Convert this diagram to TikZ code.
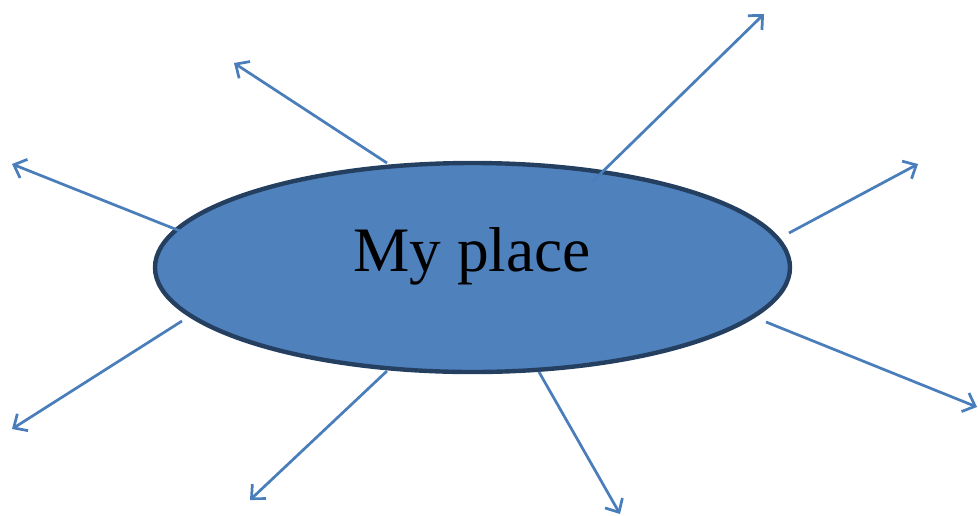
\documentclass[tikz,border=0pt]{standalone}
\usepackage{fontspec}
\setmainfont{Liberation Serif}
\usetikzlibrary{arrows.meta,shapes.geometric}
\definecolor{fillblue}{HTML}{4F81BD}
\definecolor{edgeblue}{HTML}{243F60}
\definecolor{arrowblue}{HTML}{4A7EBB}
\tikzset{
  ray/.style={draw=arrowblue, line width=2.05pt, -{Straight Barb[length=8pt,width=15pt,line width=2.05pt]}},
}
\begin{document}
\begin{tikzpicture}[x=0.75pt,y=-0.75pt]
\useasboundingbox (0,0) rectangle (978,515);
\node[ellipse, draw=edgeblue, fill=fillblue, line width=3.3pt, minimum width=635pt*0.75, minimum height=209pt*0.75, inner sep=0pt] (place) at (472.5,267.5) {};
\node[font=\fontsize{47.5pt}{50pt}\selectfont, inner sep=0pt] (label) at (472,256) {My place};
\coordinate (s1) at (387,163); \coordinate (e1) at (234,63);
\coordinate (s2) at (180,231); \coordinate (e2) at (12,164);
\coordinate (s3) at (182,321); \coordinate (e3) at (12,429);
\coordinate (s4) at (387,371); \coordinate (e4) at (250,500);
\coordinate (s5) at (539,372); \coordinate (e5) at (620,514);
\coordinate (s6) at (766,322); \coordinate (e6) at (977,407);
\coordinate (s7) at (789,233); \coordinate (e7) at (918,164);
\coordinate (s8) at (592,182); \coordinate (e8) at (764,14);
\foreach \i in {1,...,8} { \draw[ray] (s\i) -- (e\i); }
\end{tikzpicture}
\end{document}
